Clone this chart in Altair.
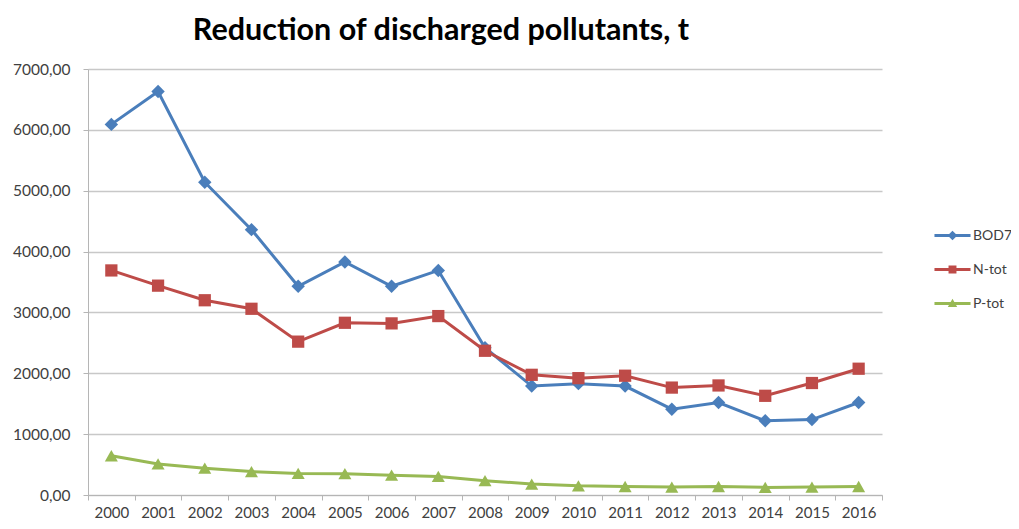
import altair as alt
import pandas as pd

years = [str(y) for y in range(2000, 2017)]
bod7 = [6090, 6630, 5140, 4360, 3430, 3830, 3430, 3690, 2420, 1790, 1830, 1790, 1410, 1520, 1220, 1240, 1520]
ntot = [3690, 3440, 3200, 3060, 2520, 2830, 2820, 2940, 2370, 1975, 1920, 1960, 1765, 1800, 1630, 1840, 2075]
ptot = [645, 510, 440, 385, 355, 350, 325, 305, 235, 180, 150, 140, 130, 140, 125, 130, 140]
series = ["BOD7", "N-tot", "P-tot"]
y_ticks = [0, 1000, 2000, 3000, 4000, 5000, 6000, 7000]

colors = ["#4A7EBB", "#BE4B48", "#98B954"]
shapes = ["diamond", "square", "triangle-up"]
sizes = [180, 150, 170]
BAR = "M-1,-0.08H1V0.08H-1Z"
legend_paths = [
    BAR + "M0,-0.27L0.27,0L0,0.27L-0.27,0Z",
    BAR + "M-0.22,-0.22H0.22V0.22H-0.22Z",
    BAR + "M0,-0.26L0.26,0.2L-0.26,0.2Z",
]

rows = []
for name, vals in zip(series, [bod7, ntot, ptot]):
    for yr, v in zip(years, vals):
        rows.append({"year": yr, "series": name, "value": v})
df = pd.DataFrame(rows)

FONT = "Lato"
LABEL = "#404040"

X = alt.X(
    "year:O",
    sort=years,
    scale=alt.Scale(type="band", paddingInner=0, paddingOuter=0),
    axis=alt.Axis(
        title=None, labelAngle=0, tickBand="extent", grid=False,
        domainColor="#b5b5b5", tickColor="#b5b5b5", tickSize=5,
        labelFont=FONT, labelFontSize=15, labelColor=LABEL, labelPadding=5,
    ),
)
Y = alt.Y(
    "value:Q",
    scale=alt.Scale(domain=[0, 7000], nice=False, zero=True),
    axis=alt.Axis(
        title=None, values=y_ticks,
        labelExpr="replace(format(datum.value, '.2f'), '.', ',')",
        gridColor="#c8c8c8", gridWidth=1.3,
        domainColor="#b5b5b5", tickColor="#b5b5b5", tickSize=5,
        labelFont=FONT, labelFontSize=15.5, labelColor=LABEL, labelPadding=13,
    ),
)

layers = []
for name, c in zip(series, colors):
    base = alt.Chart(df).transform_filter(alt.datum.series == name)
    layers.append(base.mark_line(color=c, strokeWidth=3).encode(x=X, y=Y))
for name, c, sh, sz in zip(series, colors, shapes, sizes):
    base = alt.Chart(df).transform_filter(alt.datum.series == name)
    layers.append(
        base.mark_point(shape=sh, filled=True, color=c, size=sz, opacity=1).encode(x=X, y=Y)
    )

leg = alt.Legend(
    title=None, orient="none", legendX=846, legendY=148,
    symbolSize=1300, symbolStrokeWidth=0, symbolOpacity=1,
    labelFont=FONT, labelFontSize=14, labelColor=LABEL,
    rowPadding=8, padding=0, labelOffset=2,
)
legend_layer = (
    alt.Chart(df)
    .transform_filter("false")
    .mark_point(filled=True, opacity=1)
    .encode(
        color=alt.Color("series:N", scale=alt.Scale(domain=series, range=colors), legend=leg),
        shape=alt.Shape("series:N", scale=alt.Scale(domain=series, range=legend_paths), legend=leg),
    )
)
layers.append(legend_layer)

chart = (
    alt.layer(*layers)
    .properties(
        width=794,
        height=426,
        autosize=alt.AutoSizeParams(type="none"),
        padding={"left": 80, "top": 61, "right": 129, "bottom": 26},
        title=alt.TitleParams(
            "Reduction of discharged pollutants, t",
            font=FONT, fontSize=30.5, fontWeight="bold", color="#000000",
            anchor="middle", dx=-44, offset=16,
        ),
        background="white",
    )
    .configure_view(stroke=None)
)

chart.save("out.html", embed_options={"renderer": "svg", "actions": False})
